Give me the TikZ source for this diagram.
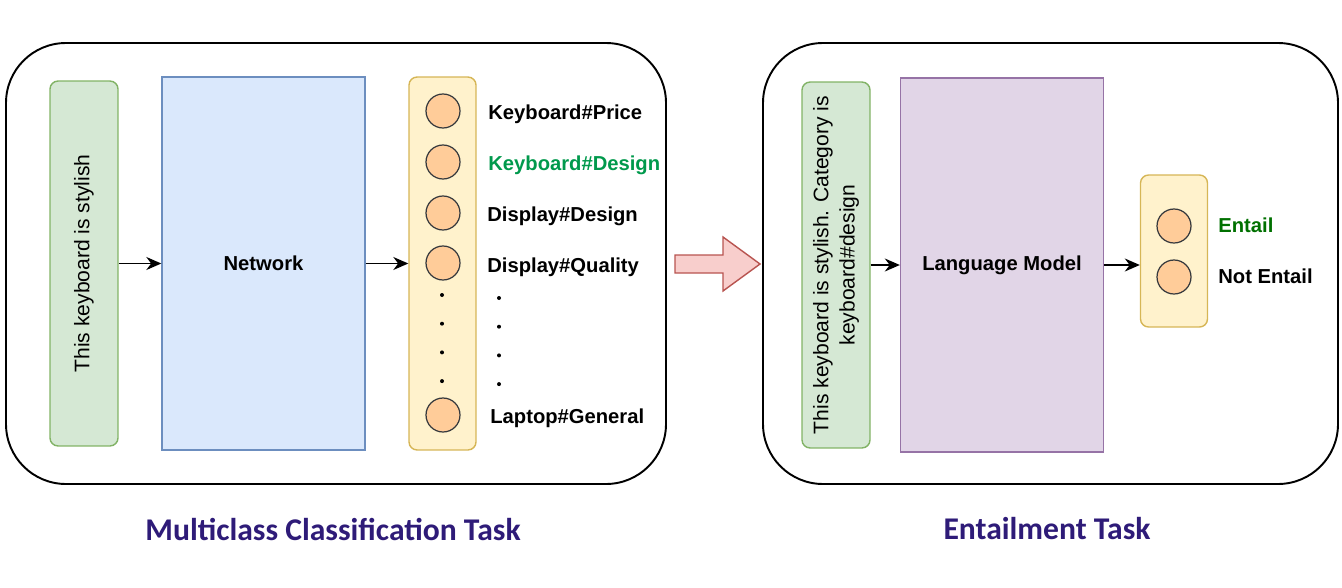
\documentclass[tikz,border=0pt]{standalone}
\usepackage{fontspec}
\setmainfont{Liberation Sans}
\newfontfamily\titlefont{Carlito}
\usetikzlibrary{arrows.meta}
\tikzset{>={Stealth[length=3mm,width=2.6mm]}}
\definecolor{boxgreen}{HTML}{D5E8D4}
\definecolor{linegreen}{HTML}{82B366}
\definecolor{boxblue}{HTML}{DAE8FC}
\definecolor{lineblue}{HTML}{6C8EBF}
\definecolor{boxyellow}{HTML}{FFF2CC}
\definecolor{lineyellow}{HTML}{D6B656}
\definecolor{boxpurple}{HTML}{E1D5E7}
\definecolor{linepurple}{HTML}{9673A6}
\definecolor{unitfill}{HTML}{FFCC99}
\definecolor{unitline}{HTML}{36393D}
\definecolor{arrowpink}{HTML}{F8CECC}
\definecolor{arrowred}{HTML}{B85450}
\definecolor{titleblue}{RGB}{46,27,120}
\definecolor{labelgreen}{RGB}{0,153,76}
\definecolor{entailgreen}{RGB}{0,112,0}

\begin{document}
\begin{tikzpicture}[x=0.02cm, y=-0.02cm,
        frame/.style={draw=black, line width=1.1pt, rounded corners=1.2cm},
        inputbox/.style={draw=linegreen, fill=boxgreen, line width=0.8pt, rounded corners=0.16cm,
                         minimum width=1.36cm, inner sep=0pt},
        layerbox/.style={line width=0.8pt, minimum width=4.06cm, minimum height=7.46cm, inner sep=0pt},
        outbox/.style={draw=lineyellow, fill=boxyellow, line width=0.8pt, rounded corners=0.16cm,
                       minimum width=1.34cm, inner sep=0pt},
        unit/.style={circle, draw=unitline, fill=unitfill, line width=0.7pt, minimum size=0.68cm, inner sep=0pt},
        lbl/.style={anchor=west, font=\fontsize{11.5}{14}\selectfont\bfseries, inner sep=0pt},
        sent/.style={rotate=90, font=\fontsize{12}{15}\selectfont, align=center},
        link/.style={->, line width=0.75pt},
        title/.style={font=\titlefont\fontsize{18}{21}\selectfont\bfseries, text=titleblue}]
    \useasboundingbox (0,0) rectangle (1342,588);

    % multiclass side
    \draw[frame] (6,43) rectangle (666,484);
    \node[inputbox, minimum height=7.3cm] (in1) at (84,263.5) {};
    \node[sent] (in1text) at (in1.center) {This keyboard is stylish};
    \node[layerbox, draw=lineblue, fill=boxblue, font=\fontsize{11.5}{14}\selectfont\bfseries] (net) at (263.5,263.5) {Network};
    \node[outbox, minimum height=7.46cm] (out1) at (442.5,263.5) {};

    \node[unit] (c1) at (443,111) {};
    \node[unit] (c2) at (443,162) {};
    \node[unit] (c3) at (443,213) {};
    \node[unit] (c4) at (443,263) {};
    \node[unit] (c5) at (443,415) {};

    \node[lbl] (l1) at (488,114) {Keyboard\#Price};
    \node[lbl, text=labelgreen] (l2) at (488,165) {Keyboard\#Design};
    \node[lbl] (l3) at (487,216) {Display\#Design};
    \node[lbl] (l4) at (487,267) {Display\#Quality};
    \node[lbl] (l5) at (490,418) {Laptop\#General};

    \foreach \y in {0,1,2,3} {
        \fill (442,295+28.7*\y) circle [radius=0.04cm];
        \fill (499,298+28.7*\y) circle [radius=0.04cm];
    }

    \draw[link] (in1.east |- net.west) -- (net.west);
    \draw[link] (net.east) -- (out1.west);

    % big arrow between the tasks
    \draw[draw=arrowred, fill=arrowpink, line width=0.8pt]
        (675,255) -- (723,255) -- (723,237) -- (760,264) -- (723,291) -- (723,273) -- (675,273) -- cycle;

    % entailment side
    \draw[frame] (763,43) rectangle (1338,484);
    \node[inputbox, minimum height=7.32cm] (in2) at (836,265) {};
    \node[sent] (in2text) at (in2.center) {This keyboard is stylish. Category is\\keyboard\#design};
    \node[layerbox, draw=linepurple, fill=boxpurple, minimum height=7.48cm, font=\fontsize{11.5}{14}\selectfont\bfseries] (lm) at (1002,265) {Language Model};
    \node[outbox, minimum height=3.04cm] (out2) at (1174,251) {};

    \node[unit] (e1) at (1174,226) {};
    \node[unit] (e2) at (1174,277) {};
    \node[lbl, text=entailgreen] (le1) at (1218,225) {Entail};
    \node[lbl] (le2) at (1218,276) {Not Entail};

    \draw[link] (in2.east |- lm.west) -- (lm.west);
    \draw[link] (lm.east) -- (lm.east -| out2.west);

    % captions
    \node[title] (t1) at (333,529) {Multiclass Classification Task};
    \node[title] (t2) at (1047,529) {Entailment Task};
\end{tikzpicture}
\end{document}
